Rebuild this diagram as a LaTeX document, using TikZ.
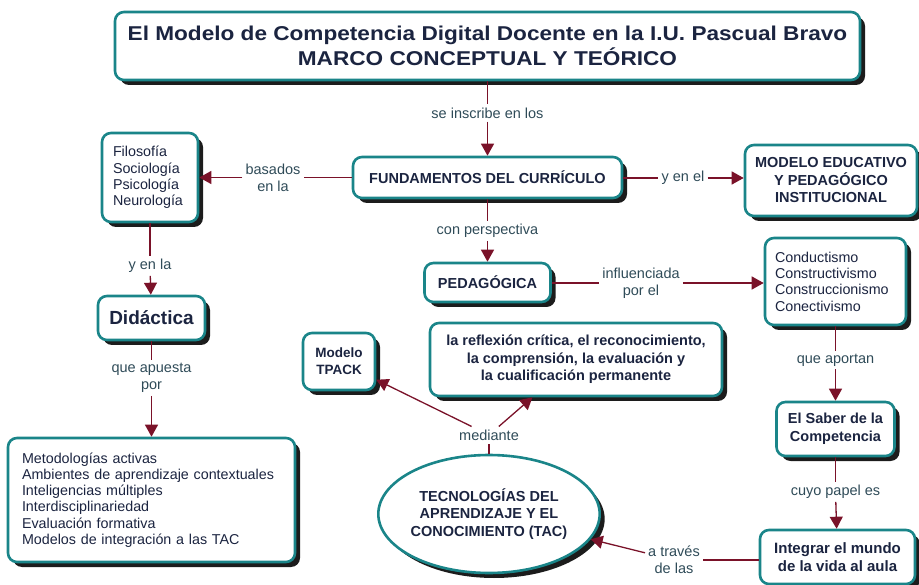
\documentclass[tikz,border=0pt]{standalone}
\usepackage{fontspec}
\setmainfont{Liberation Sans}
\usetikzlibrary{arrows.meta,shapes.geometric,shadows}
\definecolor{teal1}{HTML}{1A8589}
\definecolor{navy1}{HTML}{1B2440}
\definecolor{lab1}{HTML}{2F4B58}
\definecolor{con1}{HTML}{7A1229}
\definecolor{shad}{HTML}{1C1C1C}
\begin{document}
\begin{tikzpicture}[x=1pt,y=-1pt,
  box/.style={draw=teal1, line width=2.6pt, rounded corners=9pt, fill=white,
    drop shadow={shadow xshift=5pt, shadow yshift=-5pt, fill=shad, opacity=1},
    text=navy1, align=center, inner sep=0pt,
    font=\fontsize{14.5}{17.5}\selectfont\bfseries},
  lst/.style={box, align=left, font=\fontsize{14.3}{16.3}\selectfont},
  lab/.style={text=lab1, align=center, inner sep=3pt,
    font=\fontsize{14.5}{17}\selectfont},
  con/.style={draw=con1, line width=1.3pt},
  arr/.style={con, -{Triangle[length=12pt,width=13pt]}},
]
\useasboundingbox (0,0) rectangle (919,585);

% nodes
\node[box, minimum width=745pt, minimum height=68pt,
  font=\fontsize{20}{25}\selectfont\bfseries] (title) at (487.5,46)
  {\scalebox{1.13}[1]{El Modelo de Competencia Digital Docente en la I.U. Pascual Bravo}\\
   \scalebox{1.13}[1]{MARCO CONCEPTUAL Y TEÓRICO}};
\node[box, minimum width=269pt, minimum height=41pt] (fund) at (487.5,177.5)
  {FUNDAMENTOS DEL CURRÍCULO};
\node[lst, text width=74pt, inner xsep=11pt, minimum height=89pt] (filo) at (150,177.5)
  {Filosofía\\Sociología\\Psicología\\Neurología};
\node[box, minimum width=172pt, minimum height=71pt] (modelo) at (831,180.5)
  {MODELO EDUCATIVO\\Y PEDAGÓGICO\\INSTITUCIONAL};
\node[box, minimum width=126pt, minimum height=39pt] (ped) at (487.5,282.5)
  {PEDAGÓGICA};
\node[lst, text width=121pt, inner xsep=10pt, minimum height=87pt] (cond) at (835.5,281.5)
  {Conductismo\\Constructivismo\\Construccionismo\\Conectivismo};
\node[box, minimum width=118pt, minimum height=54pt] (saber) at (835.5,429)
  {El Saber de la\\Competencia};
\node[box, minimum width=155pt, minimum height=54pt,
  font=\fontsize{15}{18}\selectfont\bfseries] (integ) at (837.5,557)
  {Integrar el mundo\\de la vida al aula};
\node[box, ellipse, minimum width=206pt, minimum height=118pt] (tac) at (489,514)
  {TECNOLOGÍAS DEL\\APRENDIZAJE Y EL\\CONOCIMIENTO (TAC)};
\node[box, minimum width=72pt, minimum height=57pt,
  font=\fontsize{13.5}{17}\selectfont\bfseries] (tpack) at (339,361.5)
  {Modelo\\TPACK};
\node[box, minimum width=292pt, minimum height=73pt] (refl) at (576,359.5)
  {la reflexión crítica, el reconocimiento,\\la comprensión, la evaluación y\\la cualificación permanente};
\node[box, minimum width=107pt, minimum height=44pt,
  font=\fontsize{19}{22}\selectfont\bfseries] (dida) at (151.5,318)
  {Didáctica};
\node[lst, text width=259pt, inner xsep=14pt, minimum height=124pt] (meto) at (151.5,500)
  {Metodologías activas\\Ambientes de aprendizaje contextuales\\Inteligencias múltiples\\Interdisciplinariedad\\Evaluación formativa\\Modelos de integración a las TAC};

% labels
\node[lab] (l1) at (487.5,113) {se inscribe en los};
\node[lab] (l2) at (273,177.5) {basados\\en la};
\node[lab] (l3) at (487.5,231) {con perspectiva};
\node[lab] (l4) at (683,178) {y en el};
\node[lab] (l5) at (641,283) {influenciada\\por el};
\node[lab] (l6) at (835.5,360) {que aportan};
\node[lab] (l7) at (835.5,492) {cuyo papel es};
\node[lab] (l8) at (674,560) {a través\\de las};
\node[lab] (l9) at (489,435) {mediante};
\node[lab] (l10) at (150,266) {y en la};
\node[lab] (l11) at (151.5,378) {que apuesta\\por};

% connectors
\draw[con] (title) -- (l1);
\draw[arr] (l1) -- (fund);
\draw[con] (fund) -- (l2);
\draw[arr] (l2) -- (filo);
\draw[con] (fund.east |- l4) -- (l4);
\draw[arr] (l4) -- (l4 -| modelo.west);
\draw[con] (fund) -- (l3);
\draw[arr] (l3) -- (ped);
\draw[con] (ped.east |- l5) -- (l5);
\draw[arr] (l5) -- (l5 -| cond.west);
\draw[con] (cond) -- (l6);
\draw[arr] (l6) -- (saber);
\draw[con] (saber) -- (l7);
\draw[arr] (l7) -- (integ);
\draw[con] (integ.west |- l8) -- (l8);
\draw[arr] (l8) -- (tac);
\draw[con] (tac) -- (l9);
\draw[arr] (l9) -- (tpack);
\draw[arr] (l9) -- (refl);
\draw[con] (filo) -- (l10);
\draw[arr] (l10) -- (dida);
\draw[con] (dida) -- (l11);
\draw[arr] (l11) -- (meto);
\end{tikzpicture}
\end{document}
